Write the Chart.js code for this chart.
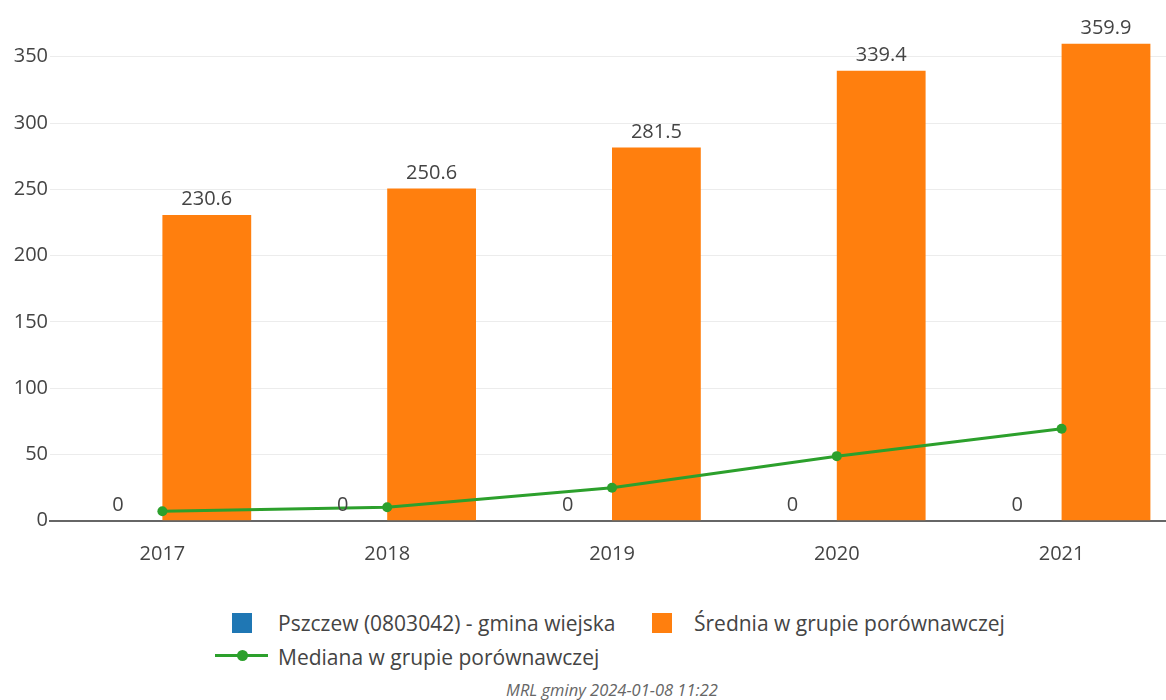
<!DOCTYPE html>
<html>
<head>
<meta charset="utf-8">
<script src="https://cdn.jsdelivr.net/npm/chart.js@4.4.0/dist/chart.umd.min.js"></script>
<style>
html,body{margin:0;padding:0;overflow:hidden;background:#fff;width:1166px;height:700px;}
#wrap{position:absolute;left:0;top:0;width:1179px;height:580px;}
.leg{position:absolute;font-family:"Open Sans",sans-serif;font-size:21px;color:#444;white-space:nowrap;line-height:24px;}
.sq{position:absolute;width:20px;height:20px;}
.foot{position:absolute;left:0;width:1224px;top:680px;text-align:center;font-family:"Open Sans",sans-serif;font-style:italic;font-size:16.5px;line-height:20px;color:#666;}
</style>
</head>
<body>
<div id="wrap"><canvas id="c" width="1179" height="580"></canvas></div>
<div class="sq" style="left:232px;top:613px;background:#1f77b4"></div>
<div class="leg" id="l1" style="left:278px;top:611px"></div>
<div class="sq" style="left:652px;top:613px;background:#ff7f0e"></div>
<div class="leg" id="l2" style="left:694px;top:611px"></div>
<div style="position:absolute;left:215px;top:654px;width:53px;height:3px;background:#2ca02c"></div>
<div style="position:absolute;left:237px;top:650px;width:11px;height:11px;border-radius:50%;background:#2ca02c"></div>
<div class="leg" id="l3" style="left:278px;top:645px"></div>
<div class="foot" id="foot"></div>
<script>
const categories = ["2017","2018","2019","2020","2021"];
const seriesNames = ["Pszczew (0803042) - gmina wiejska","Średnia w grupie porównawczej","Mediana w grupie porównawczej"];
const gminaValues = [0,0,0,0,0];
const sredniaValues = [230.6,250.6,281.5,339.4,359.9];
const medianaValues = [7.1,10.2,24.8,48.7,69.4];
const yTicks = [0,50,100,150,200,250,300,350];
const footerText = "MRL gminy 2024-01-08 11:22";

document.getElementById('l1').textContent = seriesNames[0];
document.getElementById('l2').textContent = seriesNames[1];
document.getElementById('l3').textContent = seriesNames[2];
document.getElementById('foot').textContent = footerText;

const FONT = '"Open Sans", sans-serif';

const barLabels = {
  id: 'barLabels',
  afterDatasetsDraw(chart) {
    const ctx = chart.ctx;
    ctx.save();
    ctx.font = '20px ' + FONT;
    ctx.fillStyle = '#444';
    ctx.textAlign = 'center';
    ctx.textBaseline = 'alphabetic';
    [0,1].forEach(di => {
      const meta = chart.getDatasetMeta(di);
      meta.data.forEach((el, i) => {
        const v = chart.data.datasets[di].data[i];
        ctx.fillText(String(v), el.x, el.y - 10);
      });
    });
    ctx.restore();
  }
};

new Chart(document.getElementById('c'), {
  type: 'bar',
  data: {
    labels: categories,
    datasets: [
      { label: seriesNames[0], data: gminaValues, backgroundColor: '#1f77b4', order: 1 },
      { label: seriesNames[1], data: sredniaValues, backgroundColor: '#ff7f0e', order: 2 },
      { type: 'line', label: seriesNames[2], data: medianaValues, borderColor: '#2ca02c', backgroundColor: '#2ca02c',
        borderWidth: 3, pointRadius: 5, pointBackgroundColor: '#2ca02c', pointBorderWidth: 0, tension: 0, order: 0 }
    ]
  },
  options: {
    responsive: false,
    animation: false,
    layout: { padding: { top: 17, right: 0, left: 0, bottom: 0 } },
    datasets: { bar: { categoryPercentage: 0.79, barPercentage: 1.0 } },
    plugins: { legend: { display: false }, tooltip: { enabled: false } },
    scales: {
      x: {
        afterFit(s) { s.height = 59.3; },
        grid: { display: false, drawTicks: false },
        border: { display: true, color: '#666', width: 2 },
        ticks: { color: '#444', font: { family: FONT, size: 20 }, padding: 22 }
      },
      y: {
        min: 0, max: 380,
        afterFit(s) { s.width = 50; },
        afterBuildTicks(s) { s.ticks = yTicks.map(v => ({ value: v })); },
        grid: { color: '#ececec', lineWidth: 1, drawTicks: false },
        border: { display: false },
        ticks: { color: '#444', font: { family: FONT, size: 20 }, padding: 2 }
      }
    }
  },
  plugins: [barLabels]
});
</script>
</body>
</html>
